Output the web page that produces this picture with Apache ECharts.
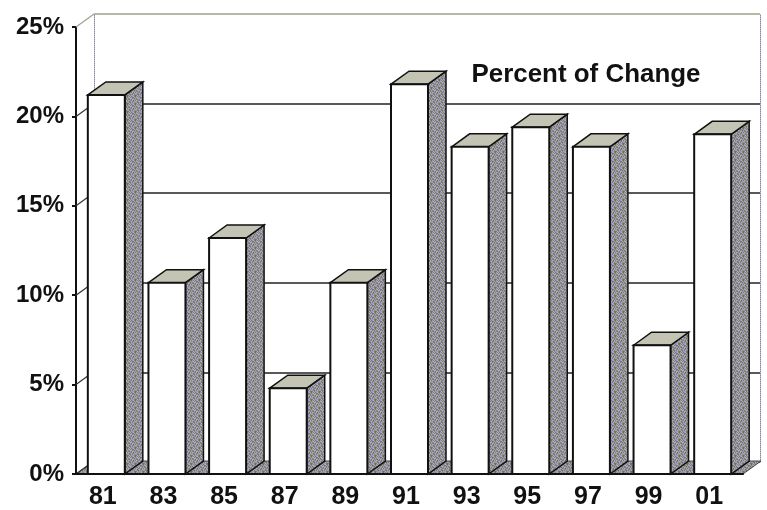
<!DOCTYPE html>
<html>
<head>
<meta charset="utf-8">
<script src="https://cdn.jsdelivr.net/npm/echarts@6/dist/echarts.min.js"></script>
<style>
  html, body { margin: 0; padding: 0; background: #fff; }
  #chart { width: 767px; height: 510px; }
</style>
</head>
<body>
<div id="chart"></div>
<script>
// Two-year periods and the percent change for each
const categories = ['81', '83', '85', '87', '89', '91', '93', '95', '97', '99', '01'];
const percentChange = [21.2, 10.7, 13.2, 4.8, 10.7, 21.8, 18.3, 19.4, 18.3, 7.2, 19.0];
const yTicks = [0, 5, 10, 15, 20, 25];
const chartTitle = 'Percent of Change';

// Depth of the pseudo-3D box (pixels the back plane is shifted right / up)
const DX = 18, DY = 13;
const FRONT = { left: 76, right: 24, top: 27, bottom: 35 };
const BACK = { left: FRONT.left + DX, right: FRONT.right - DX + 1, top: FRONT.top - DY, bottom: FRONT.bottom + DY };
const FONT = '"Liberation Sans", Arial, sans-serif';

// Dithered tile used for the shaded faces: a mix of lavender, olive and grey dots
function makeDither() {
  const palette = ['#9a98d0', '#8e8a5c', '#a0a0a0', '#7a7890', '#b0aec0', '#6e6e58'];
  const map = [
    '01230415',
    '24105321',
    '30421052',
    '15034210',
    '42310543',
    '05241320',
    '21503412',
    '34120035'
  ];
  const c = document.createElement('canvas');
  c.width = 8; c.height = 8;
  const ctx = c.getContext('2d');
  for (let r = 0; r < 8; r++) for (let k = 0; k < 8; k++) {
    ctx.fillStyle = palette[+map[r][k]];
    ctx.fillRect(k, r, 1, 1);
  }
  return c;
}
const dither = { image: makeDither(), repeat: 'repeat' };

const chart = echarts.init(document.getElementById('chart'), null, { renderer: 'canvas' });

chart.setOption({
  animation: false,
  backgroundColor: '#fff',
  grid: [
    { left: FRONT.left, right: FRONT.right, top: FRONT.top, bottom: FRONT.bottom, containLabel: false },
    { left: BACK.left, right: BACK.right, top: BACK.top, bottom: BACK.bottom, containLabel: false }
  ],
  xAxis: [
    {
      type: 'category', gridIndex: 0, data: categories, boundaryGap: true, z: 3,
      axisLine: { lineStyle: { color: '#111', width: 2 } },
      axisTick: { show: false },
      axisLabel: { color: '#111', fontFamily: FONT, fontWeight: 'bold', fontSize: 25, margin: 11,
                   padding: [0, 7, 0, 0] }
    },
    { type: 'category', gridIndex: 1, data: categories, show: false }
  ],
  yAxis: [
    {
      type: 'value', gridIndex: 0, min: 0, max: 25, interval: 5,
      axisLine: { show: true, lineStyle: { color: '#111', width: 2 } },
      axisTick: { show: true, length: 4, lineStyle: { color: '#111', width: 2 } },
      splitLine: { show: false },
      axisLabel: { color: '#111', fontFamily: FONT, fontWeight: 'bold', fontSize: 24, margin: 12,
                   formatter: '{value}%' }
    },
    {
      type: 'value', gridIndex: 1, min: 0, max: 25, interval: 5,
      axisLine: { show: true, lineStyle: { color: '#8a8aa0', width: 1, type: 'dotted' } },
      axisTick: { show: false }, axisLabel: { show: false },
      splitLine: { show: true, lineStyle: { color: ['#222', '#222', '#222', '#222', '#222', '#a0a08c'], width: 1.5 } }
    },
    {
      type: 'value', gridIndex: 1, min: 0, max: 25, interval: 5, position: 'right',
      axisLine: { show: true, lineStyle: { color: '#8a8aa0', width: 1, type: 'dotted' } },
      axisTick: { show: false }, axisLabel: { show: false }, splitLine: { show: false }
    }
  ],
  graphic: [
    {
      type: 'text', x: 586, y: 75, scaleX: 1.08, scaleY: 1.05, z: 10,
      style: { text: chartTitle, font: 'bold 24px ' + FONT, fill: '#111',
               textAlign: 'center', textVerticalAlign: 'middle' }
    }
  ],
  series: [
    {
      // floor of the box
      type: 'custom', xAxisIndex: 0, yAxisIndex: 0, z: 1, silent: true,
      data: [0],
      renderItem(params, api) {
        const cs = params.coordSys;
        const yb = cs.y + cs.height;
        return {
          type: 'polygon',
          shape: { points: [[cs.x, yb], [cs.x + DX, yb - DY], [cs.x + cs.width + DX, yb - DY], [cs.x + cs.width, yb]] },
          style: { fill: dither, stroke: '#444', lineWidth: 1 }
        };
      }
    },
    {
      // diagonal tick connectors from the value axis to the back wall
      type: 'custom', xAxisIndex: 0, yAxisIndex: 0, z: 1, silent: true,
      data: yTicks.map(t => [0, t]),
      renderItem(params, api) {
        const cs = params.coordSys;
        const y = api.coord([0, api.value(1)])[1];
        const isTop = api.value(1) === yTicks[yTicks.length - 1];
        return {
          type: 'line',
          shape: { x1: cs.x, y1: y, x2: cs.x + DX, y2: y - DY },
          style: { stroke: isTop ? '#a0a08c' : '#333', lineWidth: 1.2 }
        };
      }
    },
    {
      // pseudo-3D columns
      type: 'custom', xAxisIndex: 0, yAxisIndex: 0, z: 2,
      data: percentChange.map((v, i) => [i, v]),
      renderItem(params, api) {
        const i = api.value(0), v = api.value(1);
        const top = api.coord([i, v]);
        const base = api.coord([i, 0]);
        const band = api.size([1, 0])[0];
        const w = band * 0.61;
        const x0 = top[0] - w / 2, x1 = top[0] + w / 2;
        const yt = top[1], yb = base[1];
        return {
          type: 'group',
          children: [
            {
              type: 'polygon',
              shape: { points: [[x1, yt], [x1 + DX, yt - DY], [x1 + DX, yb - DY], [x1, yb]] },
              style: { fill: dither, stroke: '#111', lineWidth: 1.5 }
            },
            {
              type: 'polygon',
              shape: { points: [[x0, yt], [x0 + DX, yt - DY], [x1 + DX, yt - DY], [x1, yt]] },
              style: { fill: '#c4c4b4', stroke: '#111', lineWidth: 1.5 }
            },
            {
              type: 'rect',
              shape: { x: x0, y: yt, width: w, height: yb - yt },
              style: { fill: '#fff', stroke: '#111', lineWidth: 2 }
            }
          ]
        };
      }
    }
  ]
});
</script>
</body>
</html>
